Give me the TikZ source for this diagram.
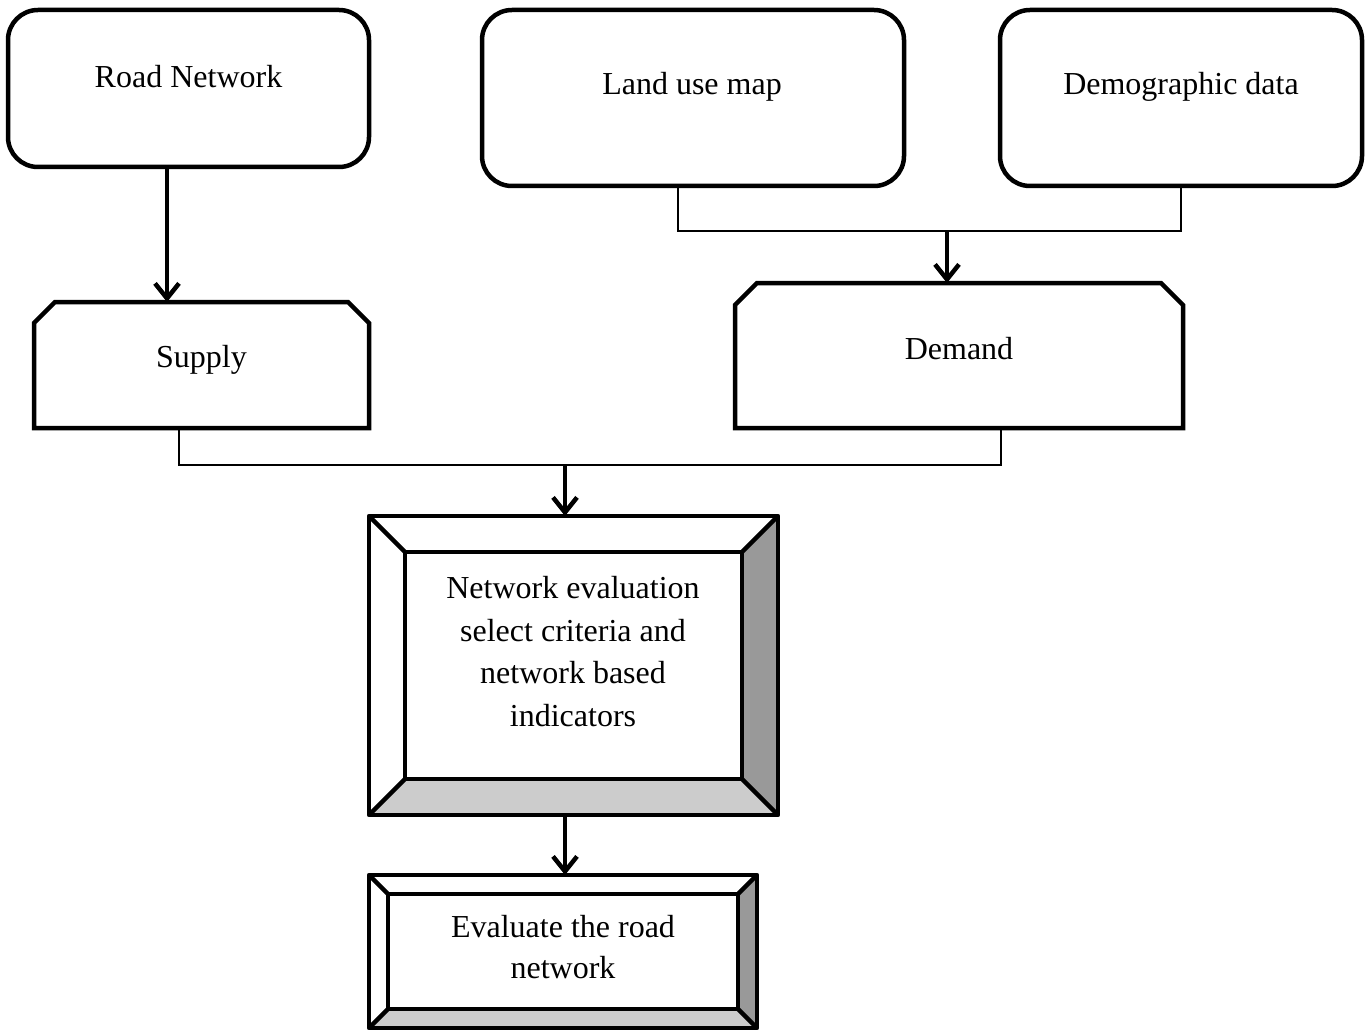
\documentclass[tikz,border=0pt]{standalone}
\usepackage{fontspec}
\setmainfont{Liberation Serif}
\usetikzlibrary{arrows.meta,calc}
\definecolor{bevdark}{HTML}{999999}
\definecolor{bevlight}{HTML}{CCCCCC}
\begin{document}
\begin{tikzpicture}[x=1pt,y=-1pt,
  lbl/.style={font=\fontsize{32}{42.5}\selectfont, align=center, inner sep=0pt},
  rbox/.style={draw, line width=4.5pt, rounded corners=30pt, inner sep=0pt, outer sep=0pt},
  area/.style={inner sep=0pt, outer sep=0pt},
  thinline/.style={line width=1.5pt},
  arr/.style={line width=4.5pt, -{Straight Barb[length=15pt,width=24pt,line width=4.5pt]}},
  edge/.style={line width=4.5pt, line join=round}]
\useasboundingbox (0,0) rectangle (1367,1032);

% top boxes
\node[rbox, minimum width=361pt, minimum height=157pt] (rn) at (188.5,88.5) {};
\node[lbl] (rnt) at ([yshift=12pt]rn.center) {Road Network};
\node[rbox, minimum width=422pt, minimum height=176pt] (lu) at (693,98) {};
\node[lbl] (lut) at ([xshift=-1pt,yshift=11.5pt]lu.center) {Land use map};
\node[rbox, minimum width=362pt, minimum height=176pt] (dg) at (1181,98) {};
\node[lbl] (dgt) at ([yshift=11.5pt]dg.center) {Demographic data};

% chamfered boxes
\node[area, minimum width=335pt, minimum height=126pt] (sup) at (201.5,365) {};
\draw[edge, line join=miter] (sup.south west) -- ($(sup.north west)+(0,21)$) -- ($(sup.north west)+(21,0)$)
  -- ($(sup.north east)+(-21,0)$) -- ($(sup.north east)+(0,21)$) -- (sup.south east) -- cycle;
\node[lbl] (supt) at ([yshift=5pt]sup.center) {Supply};

\node[area, minimum width=448pt, minimum height=145pt] (dem) at (959,355.5) {};
\draw[edge, line join=miter] (dem.south west) -- ($(dem.north west)+(0,22)$) -- ($(dem.north west)+(22,0)$)
  -- ($(dem.north east)+(-22,0)$) -- ($(dem.north east)+(0,22)$) -- (dem.south east) -- cycle;
\node[lbl] (demt) at ([yshift=7pt]dem.center) {Demand};

% bevel box 1
\node[area, minimum width=409pt, minimum height=299pt] (ne) at (573.5,665.5) {};
\coordinate (neNE) at ($(ne.north east)+(-36,36)$);
\coordinate (neSE) at ($(ne.south east)+(-36,-36)$);
\coordinate (neSW) at ($(ne.south west)+(36,-36)$);
\coordinate (neNW) at ($(ne.north west)+(36,36)$);
\fill[bevdark] (ne.north east) -- (ne.south east) -- (neSE) -- (neNE) -- cycle;
\fill[bevlight] (ne.south west) -- (ne.south east) -- (neSE) -- (neSW) -- cycle;
\draw[edge] (ne.north west) rectangle (ne.south east);
\draw[edge] (neNW) rectangle (neSE);
\draw[edge] (ne.north west) -- (neNW) (ne.north east) -- (neNE)
  (ne.south east) -- (neSE) (ne.south west) -- (neSW);
\node[lbl] (net) at ([xshift=-0.5pt,yshift=14pt]ne.center) {Network evaluation\\select criteria and\\network based\\indicators};

% bevel box 2
\node[area, minimum width=388pt, minimum height=153pt] (ev) at (563,951.5) {};
\coordinate (evNE) at ($(ev.north east)+(-19,19)$);
\coordinate (evSE) at ($(ev.south east)+(-19,-19)$);
\coordinate (evSW) at ($(ev.south west)+(19,-19)$);
\coordinate (evNW) at ($(ev.north west)+(19,19)$);
\fill[bevdark] (ev.north east) -- (ev.south east) -- (evSE) -- (evNE) -- cycle;
\fill[bevlight] (ev.south west) -- (ev.south east) -- (evSE) -- (evSW) -- cycle;
\draw[edge] (ev.north west) rectangle (ev.south east);
\draw[edge] (evNW) rectangle (evSE);
\draw[edge] (ev.north west) -- (evNW) (ev.north east) -- (evNE)
  (ev.south east) -- (evSE) (ev.south west) -- (evSW);
\node[lbl, font=\fontsize{32}{41}\selectfont] (evt) at ([yshift=4pt]ev.center) {Evaluate the road\\network};

% connectors
\coordinate (a1) at ([xshift=-21.5pt]rn.south);
\draw[arr] (a1) -- (a1 |- sup.north);

\coordinate (lu1) at ([xshift=-15pt]lu.south);
\draw[thinline] (lu1) -- ++(0,45) -| (dg.south);
\coordinate (j1) at (947,231);
\draw[arr] (j1) -- (j1 |- dem.north);

\coordinate (s1) at ([xshift=-22.5pt]sup.south);
\coordinate (d1) at ([xshift=42pt]dem.south);
\draw[thinline] (s1) -- ++(0,37) -| (d1);
\coordinate (j2) at (565,465);
\draw[arr] (j2) -- (j2 |- ne.north);

\coordinate (j3) at (565,815);
\draw[arr] (j3) -- (j3 |- ev.north);
\end{tikzpicture}
\end{document}
